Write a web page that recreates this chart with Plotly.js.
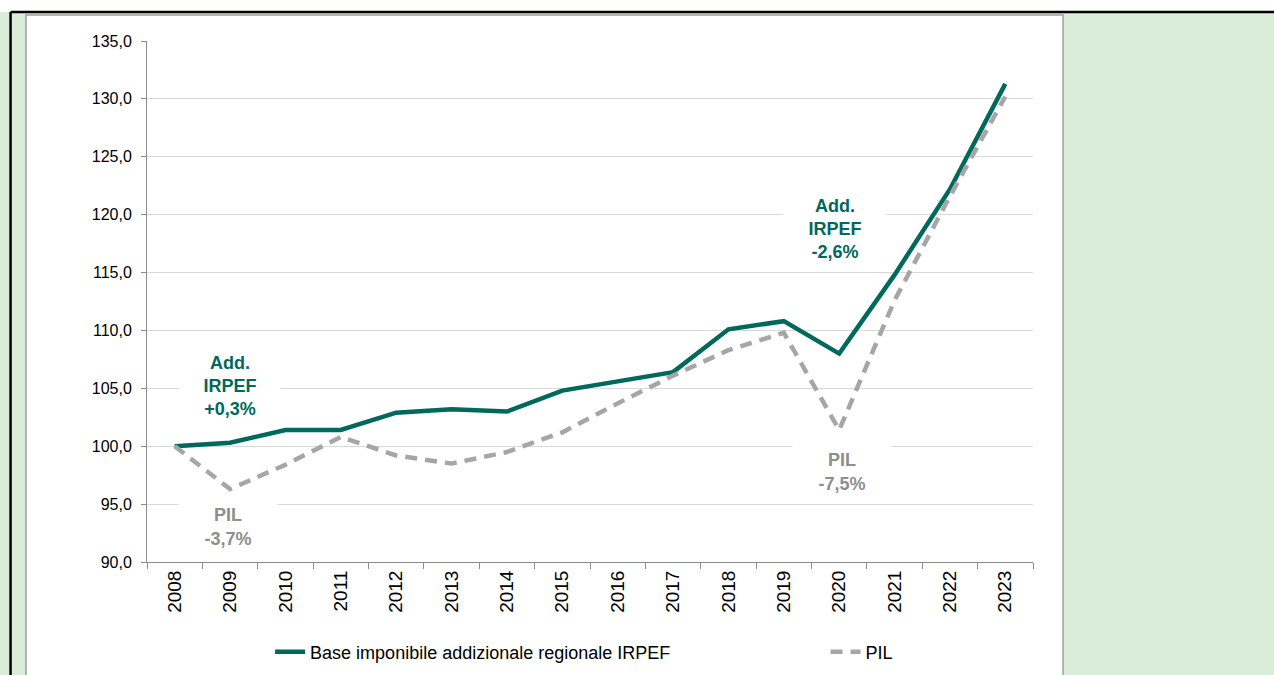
<!DOCTYPE html>
<html>
<head>
<meta charset="utf-8">
<script src="https://cdn.plot.ly/plotly-3.0.1.min.js"></script>
<style>html,body{margin:0;padding:0;background:#fff;}#chart{width:1274px;height:675px;}</style>
</head>
<body>
<div id="chart"></div>
<script>
const years = ['2008','2009','2010','2011','2012','2013','2014','2015','2016','2017','2018','2019','2020','2021','2022','2023'];
const irpefBase = [100.0, 100.3, 101.4, 101.4, 102.9, 103.2, 103.0, 104.8, 105.6, 106.4, 110.1, 110.8, 108.0, 114.8, 122.2, 131.3];
const pil = [100.0, 96.3, 98.4, 100.8, 99.2, 98.5, 99.5, 101.2, 103.7, 106.1, 108.3, 109.8, 101.4, 112.6, 121.6, 130.2];
const seriesNames = ['Base imponibile addizionale regionale IRPEF', 'PIL'];
const yTicks = [90, 95, 100, 105, 110, 115, 120, 125, 130, 135];

const teal = '#00695C';
const grey = '#A6A6A6';
const greyText = '#8E8E8E';
const FONT = 'Liberation Sans, Arial, sans-serif';

const traces = [
  {x: years, y: irpefBase, name: seriesNames[0], type: 'scatter', mode: 'lines',
   line: {color: teal, width: 4.5}, legend: 'legend'},
  {x: years, y: pil, name: seriesNames[1], type: 'scatter', mode: 'lines',
   line: {color: grey, width: 4.5, dash: '12px,8px'}, legend: 'legend2'}
];

const legendFont = {family: FONT, size: 18, color: '#000'};

const layout = {
  width: 1274, height: 675,
  margin: {l: 147, r: 241, t: 41, b: 113, autoexpand: false},
  paper_bgcolor: '#D9EDD9',
  plot_bgcolor: 'rgba(0,0,0,0)',
  separators: ',.',
  font: {family: FONT, color: '#000', size: 15},
  showlegend: true,
  legend: {orientation: 'h', xref: 'container', yref: 'container', x: 0.212, xanchor: 'left',
           y: 0.034, yanchor: 'middle', font: legendFont, bgcolor: 'rgba(0,0,0,0)', itemwidth: 30},
  legend2: {orientation: 'h', xref: 'container', yref: 'container', x: 0.648, xanchor: 'left',
           y: 0.034, yanchor: 'middle', font: legendFont, bgcolor: 'rgba(0,0,0,0)', itemwidth: 30},
  xaxis: {type: 'category', tickson: 'boundaries', ticks: 'outside', ticklen: 6, tickcolor: '#8c8c8c',
          showline: true, linecolor: '#8c8c8c', linewidth: 1, showgrid: false, automargin: false,
          tickangle: -90, tickfont: {family: FONT, size: 19, color: '#000'}, range: [-0.5, 15.5]},
  yaxis: {range: [90, 135], tickvals: yTicks, tickformat: '.1f', ticks: 'outside', ticklen: 5,
          tickcolor: '#8c8c8c', showline: true, linecolor: '#8c8c8c', linewidth: 1, automargin: false,
          gridcolor: '#D9D9D9', gridwidth: 1, zeroline: false, ticklabelstandoff: 6,
          tickfont: {family: FONT, size: 16, color: '#000'}},
  shapes: [
    {type: 'rect', xref: 'paper', yref: 'paper', x0: -0.1366, x1: 1.0339, y0: -0.3, y1: 1.0499,
     fillcolor: '#FFFFFF', line: {color: '#A0A0A0', width: 1.5}, layer: 'below'},
    {type: 'rect', xref: 'paper', yref: 'paper', x0: -0.2, x1: 1.3, y0: 1.0557, y1: 1.1,
     fillcolor: '#FFFFFF', line: {width: 0}, layer: 'below'},
    {type: 'line', xref: 'paper', yref: 'paper', x0: -0.1540, x1: 1.3, y0: 1.0557, y1: 1.0557,
     line: {color: '#000', width: 2.5}, layer: 'below'},
    {type: 'line', xref: 'paper', yref: 'paper', x0: -0.1540, x1: -0.1540, y0: -0.3, y1: 1.0557,
     line: {color: '#000', width: 2.5}, layer: 'below'}
  ],
  annotations: [
    {x: 1, y: 105.2, xref: 'x', yref: 'y', text: '<b>Add.<br>IRPEF<br>+0,3%</b>', showarrow: false,
     font: {family: FONT, size: 18, color: teal}, bgcolor: '#FFFFFF', width: 98, height: 72, align: 'center'},
    {x: 11.93, y: 118.75, xref: 'x', yref: 'y', text: '<b>Add.<br>IRPEF<br>-2,6%</b>', showarrow: false,
     font: {family: FONT, size: 18, color: teal}, bgcolor: '#FFFFFF', width: 100, height: 72, align: 'center'},
    {x: 0.97, y: 93.05, xref: 'x', yref: 'y', text: '<b>PIL<br>-3,7%</b>', showarrow: false,
     font: {family: FONT, size: 18, color: greyText}, bgcolor: '#FFFFFF', width: 96, height: 50, align: 'center'},
    {x: 12.05, y: 97.75, xref: 'x', yref: 'y', text: '<b>PIL<br>-7,5%</b>', showarrow: false,
     font: {family: FONT, size: 18, color: greyText}, bgcolor: '#FFFFFF', width: 96, height: 50, align: 'center'}
  ]
};

Plotly.newPlot('chart', traces, layout, {displayModeBar: false, staticPlot: true});
</script>
</body>
</html>
